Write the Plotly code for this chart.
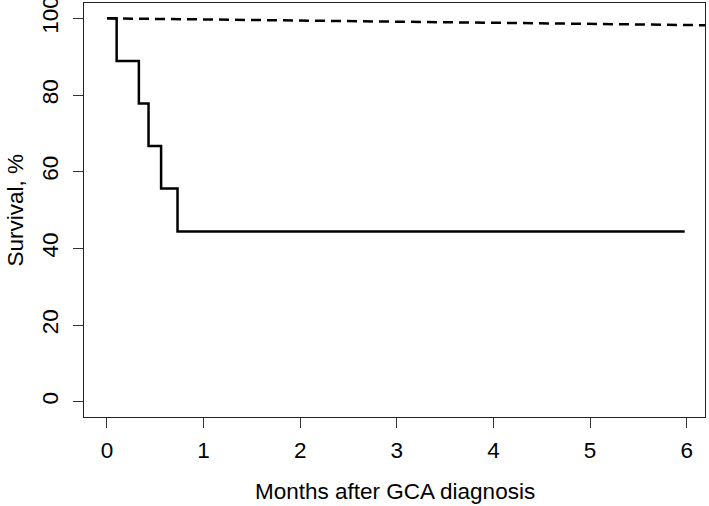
import plotly.graph_objects as go

# Observed Kaplan-Meier survival (GCA patients)
km_months = [0, 0.10, 0.33, 0.43, 0.56, 0.73, 5.98]
km_survival = [100, 88.9, 77.8, 66.7, 55.6, 44.4, 44.4]

# Expected survival (reference population)
exp_months = [0, 2, 4, 6.2]
exp_survival = [100, 99.4, 98.8, 98.2]

x_ticks = [0, 1, 2, 3, 4, 5, 6]
y_ticks = [0, 20, 40, 60, 80, 100]

FONT = "Liberation Sans, Arial, Helvetica, sans-serif"
FS = 22.5

fig = go.Figure()
fig.add_trace(go.Scatter(x=exp_months, y=exp_survival, mode="lines",
                         line=dict(color="black", width=2.5, dash="10px,6px"),
                         showlegend=False, hoverinfo="skip"))
fig.add_trace(go.Scatter(x=km_months, y=km_survival, mode="lines",
                         line=dict(color="black", width=2.5, shape="hv"),
                         showlegend=False))

axis_common = dict(showgrid=False, zeroline=False, showline=True, mirror=True,
                   linecolor="#222", linewidth=1, ticks="outside", ticklen=10,
                   tickwidth=1, tickcolor="#333", automargin=False,
                   ticklabeloverflow="allow",
                   tickfont=dict(family=FONT, size=FS, color="black"))

fig.update_layout(
    width=709, height=506,
    margin=dict(l=84, r=4, t=3, b=89, autoexpand=False),
    paper_bgcolor="white", plot_bgcolor="white",
    xaxis=dict(range=[-0.238, 6.19], tickvals=x_ticks, ticklabelstandoff=3, **axis_common),
    yaxis=dict(range=[-4, 104], tickvals=y_ticks, tickangle=-90, ticklabelstandoff=6, **axis_common),
    annotations=[
        dict(text="Months after GCA diagnosis", xref="paper", yref="paper", x=0.5, y=0,
             xanchor="center", yanchor="middle", yshift=-74, showarrow=False,
             font=dict(family=FONT, size=FS, color="black")),
        dict(text="Survival, %", xref="paper", yref="paper", x=0, y=0.5,
             xanchor="left", yanchor="middle", xshift=-84, textangle=-90, showarrow=False,
             font=dict(family=FONT, size=FS, color="black")),
    ],
)

fig.write_html("out.html", config={"displayModeBar": False},
               post_script="document.body.style.margin='0';document.body.style.padding='0';")
